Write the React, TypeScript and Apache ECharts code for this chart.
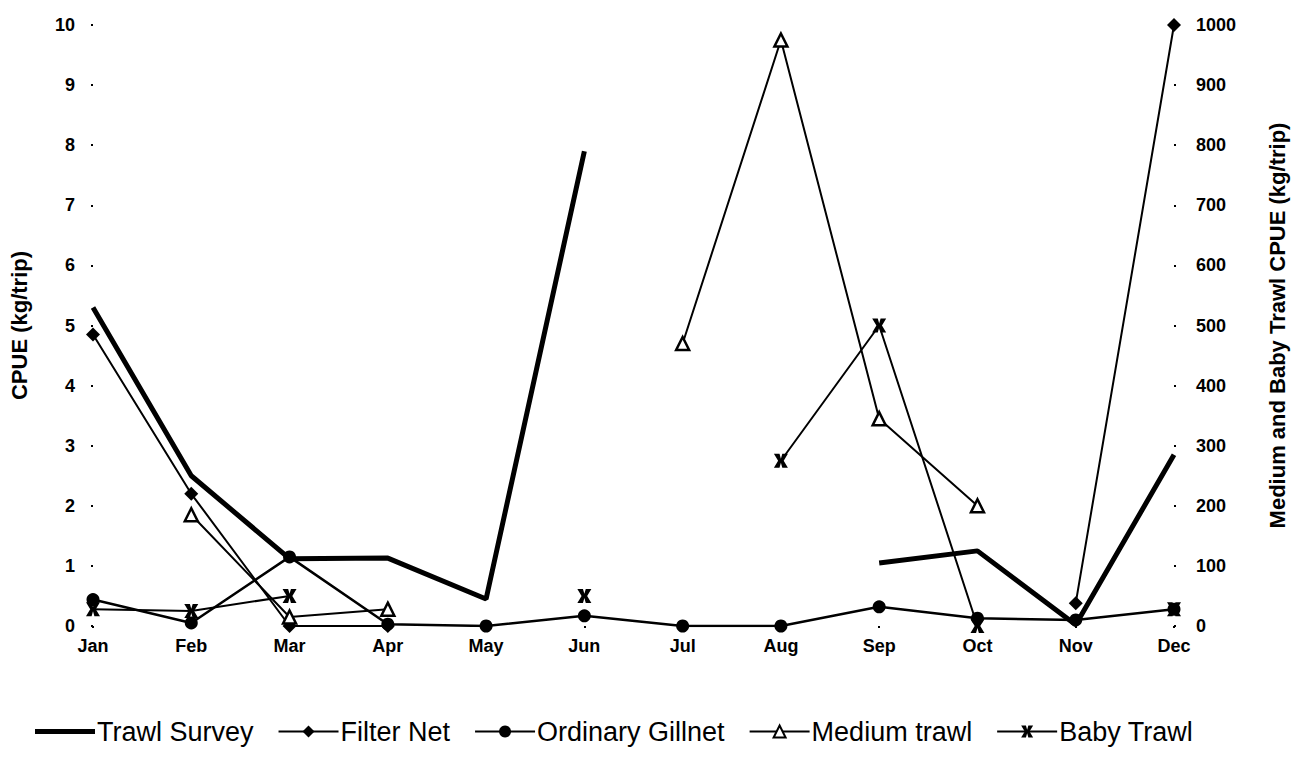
import React, { useEffect, useRef } from "react";
import * as echarts from "echarts";

const months = ["Jan", "Feb", "Mar", "Apr", "May", "Jun", "Jul", "Aug", "Sep", "Oct", "Nov", "Dec"];
const leftTicks = { min: 0, max: 10, interval: 1 };
const rightTicks = { min: 0, max: 1000, interval: 100 };

const trawlSurvey = [5.3, 2.5, 1.12, 1.13, 0.45, 7.9, null, null, 1.05, 1.25, 0.02, 2.85];
const filterNet = [4.85, 2.2, 0, 0, null, null, null, null, null, null, 0.38, 10];
const ordinaryGillnet = [0.44, 0.05, 1.15, 0.03, 0, 0.17, 0, 0, 0.32, 0.13, 0.1, 0.28];
const mediumTrawl = [null, 185, 15, 28, null, null, 470, 975, 345, 200, null, null];
const babyTrawl = [28, 25, 50, null, null, 50, null, 275, 500, 0, null, 28];

const xSymbol =
  "path://M0,0 L4,0 L5,3.5 L6,0 L10,0 L7,5 L10,10 L6,10 L5,6.5 L4,10 L0,10 L3,5 Z";
const thickLineIcon = "path://M0,0 L60,0 L60,5 L0,5 Z";

const FONT = "'Liberation Sans', Arial, sans-serif";

export default function App() {
  const ref = useRef<HTMLDivElement>(null);
  useEffect(() => {
    if (!ref.current) return;
    const chart = echarts.init(ref.current, undefined, { renderer: "svg" });
    const axisLabel = { color: "#000", fontFamily: FONT, fontWeight: "bold", fontSize: 18 };
    const nameStyle = { color: "#000", fontFamily: FONT, fontWeight: "bold", fontSize: 22 };
    chart.setOption({
      animation: false,
      backgroundColor: "#fff",
      textStyle: { fontFamily: FONT, color: "#000" },
      grid: { left: 93, right: 118, top: 25, bottom: 143, containLabel: false },
      legend: {
        bottom: 19,
        left: 30,
        itemWidth: 60,
        itemHeight: 15,
        itemGap: 24,
        textStyle: { color: "#000", fontFamily: FONT, fontSize: 27, padding: [0, 0, 0, -3] },
        data: [
          { name: "Trawl Survey", icon: thickLineIcon, itemStyle: { color: "#000" } },
          { name: "Filter Net" },
          { name: "Ordinary Gillnet" },
          { name: "Medium trawl" },
          { name: "Baby Trawl" },
        ],
      },
      xAxis: {
        type: "category",
        data: months,
        boundaryGap: false,
        axisLine: { show: false },
        axisTick: { show: true, length: 2, lineStyle: { color: "#000", width: 2 } },
        axisLabel: { ...axisLabel, margin: 11 },
        splitLine: { show: false },
      },
      yAxis: [
        {
          type: "value",
          ...leftTicks,
          position: "left",
          name: "CPUE (kg/trip)",
          nameLocation: "middle",
          nameRotate: 90,
          nameGap: 63,
          nameTextStyle: nameStyle,
          axisLine: { show: false },
          axisTick: { show: true, length: 2, lineStyle: { color: "#000", width: 2 } },
          axisLabel: { ...axisLabel, margin: 18 },
          splitLine: { show: false },
        },
        {
          type: "value",
          ...rightTicks,
          position: "right",
          name: "Medium and Baby Trawl CPUE (kg/trip)",
          nameLocation: "middle",
          nameRotate: 90,
          nameGap: 92,
          nameTextStyle: nameStyle,
          axisLine: { show: false },
          axisTick: { show: true, length: 2, lineStyle: { color: "#000", width: 2 } },
          axisLabel: { ...axisLabel, margin: 22, formatter: (v: number) => String(v) },
          splitLine: { show: false },
        },
      ],
      series: [
        {
          name: "Trawl Survey",
          type: "line",
          data: trawlSurvey,
          yAxisIndex: 0,
          symbol: "none",
          lineStyle: { color: "#000", width: 5 },
          itemStyle: { color: "#000" },
          z: 2,
        },
        {
          name: "Filter Net",
          type: "line",
          data: filterNet,
          yAxisIndex: 0,
          symbol: "diamond",
          symbolSize: 14,
          lineStyle: { color: "#000", width: 2 },
          itemStyle: { color: "#000" },
          z: 3,
        },
        {
          name: "Ordinary Gillnet",
          type: "line",
          data: ordinaryGillnet,
          yAxisIndex: 0,
          symbol: "circle",
          symbolSize: 13,
          lineStyle: { color: "#000", width: 2.5 },
          itemStyle: { color: "#000" },
          z: 3,
        },
        {
          name: "Medium trawl",
          type: "line",
          data: mediumTrawl,
          yAxisIndex: 1,
          symbol: "triangle",
          symbolSize: 13,
          lineStyle: { color: "#000", width: 2 },
          itemStyle: { color: "#fff", borderColor: "#000", borderWidth: 2.5 },
          z: 4,
        },
        {
          name: "Baby Trawl",
          type: "line",
          data: babyTrawl,
          yAxisIndex: 1,
          symbol: xSymbol,
          symbolSize: 14,
          lineStyle: { color: "#000", width: 2 },
          itemStyle: { color: "#000" },
          z: 5,
        },
      ],
    });
    return () => chart.dispose();
  }, []);
  return (
    <div
      ref={ref}
      style={{ position: "fixed", left: 0, top: 0, width: 1296, height: 769, background: "#fff" }}
    />
  );
}
